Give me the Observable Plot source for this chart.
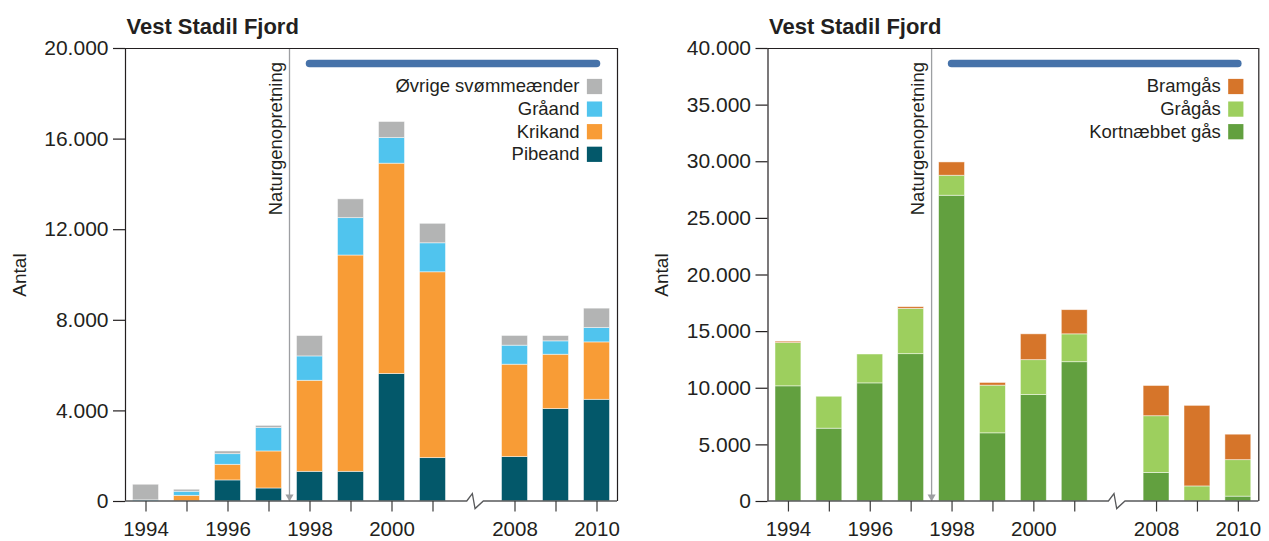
<!DOCTYPE html>
<html>
<head>
<meta charset="utf-8">
<script src="https://cdn.jsdelivr.net/npm/d3@7"></script>
<script src="https://cdn.jsdelivr.net/npm/@observablehq/plot@0.6"></script>
<style>
  html, body { margin: 0; padding: 0; background: #fff; }
  #wrap { display: flex; width: 1269px; height: 541px; overflow: hidden; }
  #wrap svg { display: block; flex: none; }
</style>
</head>
<body>
<div id="wrap"></div>
<script>
// ---------- data ----------
const years = ["1994", "1995", "1996", "1997", "1998", "1999", "2000", "2001", "2008", "2009", "2010"];
const tickLabels = ["1994", "", "1996", "", "1998", "", "2000", "", "2008", "", "2010"];

// ducks (bottom -> top of stack)
const duckSpecies = ["Pibeand", "Krikand", "Gråand", "Øvrige svømmeænder"];
const pibeand = [0, 0, 930, 575, 1310, 1310, 5630, 1915, 1960, 4080, 4490];
const krikand = [0, 250, 690, 1635, 4020, 9550, 9285, 8205, 4080, 2400, 2535];
const graaand = [50, 180, 470, 1030, 1075, 1650, 1130, 1280, 840, 590, 635];
const oevrige = [690, 90, 120, 100, 900, 830, 710, 860, 430, 235, 855];
const duckColors = ["#03586a", "#f89c36", "#50c4ee", "#b3b4b4"];
const duckTicks = [0, 4000, 8000, 12000, 16000, 20000];

// geese (bottom -> top of stack)
const gooseSpecies = ["Kortnæbbet gås", "Grågås", "Bramgås"];
const kortnaebbet = [10170, 6430, 10430, 13010, 27000, 6020, 9400, 12300, 2520, 0, 430];
const graagaas = [3820, 2820, 2550, 4000, 1765, 4210, 3080, 2460, 5010, 1330, 3220];
const bramgaas = [120, 0, 0, 150, 1175, 240, 2280, 2135, 2670, 7115, 2250];
const gooseColors = ["#62a03f", "#9dcf5e", "#d6752a"];
const gooseTicks = [0, 5000, 10000, 15000, 20000, 25000, 30000, 35000, 40000];

const title = "Vest Stadil Fjord";
const yLabel = "Antal";
const restorationLabel = "Naturgenopretning";
const restorationYear = "1998";
const periodStart = "1998";
const periodEnd = "2010";

// ---------- helpers ----------
const FONT = '"Liberation Sans", Arial, Helvetica, sans-serif';
const INK = "#231f20";
const gapSlot = 8;
const nSlots = 12;
const slotOf = (yr) => { const i = years.indexOf(yr); return i < gapSlot ? i : i + 1; };
const fmt = d3.formatLocale({decimal: ",", thousands: ".", grouping: [3], currency: ["", ""]}).format(",");

function chart({width, marginLeft, marginRight, series, names, colors, yMax, ticks}) {
  const rows = [];
  years.forEach((yr, i) => {
    let acc = 0;
    series.forEach((vals, k) => {
      const v = vals[i];
      if (v > 0) rows.push({year: yr, slot: slotOf(yr), species: names[k], y1: acc, y2: acc + v});
      acc += v;
    });
  });
  const tickPos = years.map(y => slotOf(y) + 0.5);
  const tickMap = new Map(years.map((y, i) => [slotOf(y) + 0.5, tickLabels[i]]));
  const restX = slotOf(restorationYear);
  const legendNames = names.slice().reverse();
  const legendColors = colors.slice().reverse();

  const baseline = (index, scales) => {
    const x = scales.x, y = scales.y;
    const y0 = y(0), c = x(gapSlot + 0.55), xa = x(0), xb = x(nSlots);
    const g = d3.create("svg:g");
    g.append("path")
      .attr("d", `M${xa},${y0}H${c - 8.8}L${c - 3.2},${y0 - 7.4}L${c - 0.5},${y0 + 7.6}L${c + 7.8},${y0}H${xb}`)
      .attr("fill", "none")
      .attr("stroke", "#58595b")
      .attr("stroke-width", 1.3)
      .attr("stroke-linejoin", "miter");
    return g.node();
  };

  const legendMarks = legendNames.flatMap((name, i) => [
    Plot.text([name], {text: d => d, frameAnchor: "top-right", dx: -38, dy: 38 + i * 22.6,
      textAnchor: "end", lineAnchor: "middle", fontSize: 18.5, fill: INK}),
    Plot.dot([name], {frameAnchor: "top-right", dx: -23, dy: 38 + i * 22.6,
      symbol: "square", r: 8.6, fill: legendColors[i], stroke: "none"})
  ]);

  return Plot.plot({
    width, height: 541,
    marginTop: 48, marginBottom: 40, marginLeft, marginRight,
    style: {fontFamily: FONT, color: INK, background: "white", overflow: "visible"},
    x: {domain: [0, nSlots], axis: null, label: null},
    y: {domain: [0, yMax], axis: null, label: null},
    color: {domain: names, range: colors},
    marks: [
      Plot.rect(rows, {x1: "slot", x2: d => d.slot + 1, y1: "y1", y2: "y2", fill: "species",
        insetLeft: 7.5, insetRight: 7.5, stroke: "white", strokeWidth: 0.8, strokeOpacity: 0.6}),
      // restoration marker
      Plot.ruleX([restX], {x: d => d, y1: 0, y2: yMax, stroke: "#9d9fa2", strokeWidth: 1.3}),
      Plot.dot([restX], {x: d => d, y: () => 0, symbol: "triangle", r: 3, rotate: 180,
        fill: "#9d9fa2", stroke: "none", dy: -4.7}),
      Plot.text([restorationLabel], {x: () => restX, frameAnchor: "top", text: d => d, rotate: -90,
        textAnchor: "end", lineAnchor: "bottom", dx: -8, dy: 13.5, fontSize: 18.5, fill: INK}),
      // period bar
      Plot.ruleY([yMax * 0.967], {x1: slotOf(periodStart) + 0.5, x2: slotOf(periodEnd) + 0.5,
        stroke: "#4672a9", strokeWidth: 7.5, strokeLinecap: "round"}),
      // frame
      Plot.ruleX([0, nSlots], {stroke: INK, strokeWidth: 1.2}),
      Plot.ruleY([yMax], {stroke: INK, strokeWidth: 1.2}),
      baseline,
      // axes
      Plot.axisY(ticks, {tickSize: 12, tickPadding: 5, tickFormat: fmt, fontSize: 21, stroke: INK, strokeWidth: 1.2, label: null}),
      Plot.axisX(tickPos, {tickSize: 10.5, tickPadding: 9, tickFormat: d => tickMap.get(d), fontSize: 20.5, stroke: "#3a3a3a", strokeWidth: 1.2, label: null}),
      // y label
      Plot.text([yLabel], {text: d => d, frameAnchor: "left", dx: -106, rotate: -90,
        textAnchor: "middle", lineAnchor: "middle", fontSize: 19, fill: INK}),
      // title
      Plot.text([title], {text: d => d, frameAnchor: "top-left", dx: 1, dy: -14.7,
        textAnchor: "start", lineAnchor: "bottom", fontSize: 22, fontWeight: "bold", fill: INK,
        letterSpacing: "-0.7px"}),
      ...legendMarks
    ]
  });
}

const wrap = document.getElementById("wrap");
wrap.appendChild(chart({
  width: 632, marginLeft: 125, marginRight: 15,
  series: [pibeand, krikand, graaand, oevrige], names: duckSpecies, colors: duckColors,
  yMax: 20000, ticks: duckTicks
}));
wrap.appendChild(chart({
  width: 637, marginLeft: 135.5, marginRight: 10.7,
  series: [kortnaebbet, graagaas, bramgaas], names: gooseSpecies, colors: gooseColors,
  yMax: 40000, ticks: gooseTicks
}));
</script>
</body>
</html>
